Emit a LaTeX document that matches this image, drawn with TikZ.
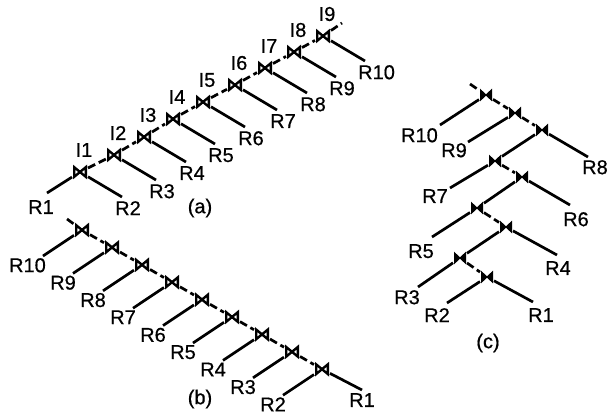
\documentclass[tikz,border=0pt]{standalone}
\usepackage{fontspec}
\setmainfont{Liberation Sans}
\newfontfamily\labfont{Liberation Sans}[FakeBold=0.6]
\begin{document}
\begin{tikzpicture}[x=1pt,y=-1pt,
  con/.style={line width=2.7pt},
  chain/.style={line width=2.7pt, dash pattern=on 8pt off 4pt},
  bt/.style={rectangle, inner sep=0pt, outer sep=0pt, minimum width=16pt, minimum height=13pt},
  cbt/.style={rectangle, inner sep=0pt, outer sep=0pt, minimum width=14pt, minimum height=13pt},
  btsym/.style={line width=2.4pt, line join=miter},
  lab/.style={inner sep=0pt, font=\labfont\fontsize{20}{21}\selectfont},
]
\path[use as bounding box] (0,0) rectangle (608,418);

% ---------------- (a) ----------------
\foreach \i/\x/\y in {1/80/172,2/114/155,3/144/137,4/173/119,5/203/102,6/235/85,7/265/68,8/294/52,9/323/36}{
  \node[bt] (a\i) at (\x,\y) {};
  \draw[btsym] ([shift={(-5.8pt,4.8pt)}]a\i.center) -- ([shift={(-5.8pt,-4.8pt)}]a\i.center)
    -- ([shift={(5.8pt,4.8pt)}]a\i.center) -- ([shift={(5.8pt,-4.8pt)}]a\i.center) -- cycle;
  \node[lab] (ia\i) at ([shift={(4,-22)}]a\i) {I\i};
}
\foreach \i [evaluate=\i as \j using int(\i+1)] in {1,...,9}{
  \node[lab, anchor=north west] (ra\j) at ([shift={(35,29)}]a\i) {R\j};
  \draw[con] (a\i) -- ([shift={(7,-4)}]ra\j.north west);
}
\node[lab, anchor=north] (ra1) at (41,200) {R1};
\draw[con] (a1) -- ([shift={(6,-7)}]ra1.north);
\coordinate (ae) at (342,23);
\draw[chain] (a1) -- (a2) -- (a3) -- (a4) -- (a5) -- (a6) -- (a7) -- (a8) -- (a9) -- (ae);
\node[lab] (capa) at (200,208) {(a)};

% ---------------- (b) ----------------
\foreach \i [evaluate=\i as \x using 82+30*(\i-1), evaluate=\i as \y using 230+17.4*(\i-1),
             evaluate=\i as \r using int(11-\i)] in {1,...,9}{
  \node[bt] (b\i) at (\x,\y) {};
  \draw[btsym] ([shift={(-5.8pt,4.8pt)}]b\i.center) -- ([shift={(-5.8pt,-4.8pt)}]b\i.center)
    -- ([shift={(5.8pt,4.8pt)}]b\i.center) -- ([shift={(5.8pt,-4.8pt)}]b\i.center) -- cycle;
  \node[lab, anchor=north east] (rb\r) at ([shift={(-36,28)}]b\i) {R\r};
  \draw[con] (b\i) -- ([shift={(-3,-2)}]rb\r.north east);
}
\node[lab, anchor=north] (rb1) at (362,393) {R1};
\draw[con] (b9) -- ([shift={(0,-3)}]rb1.north);
\coordinate (be) at (67,219);
\draw[chain] (be) -- (b1) -- (b2) -- (b3) -- (b4) -- (b5) -- (b6) -- (b7) -- (b8) -- (b9);
\node[lab] (capb) at (200,399) {(b)};

% ---------------- (c) ----------------
\foreach \i/\x/\y in {1/486/95,2/515/113,3/542/130,4/495/161,5/522/177,6/477/208,7/506/227,8/460/258,9/487/277}{
  \node[cbt] (c\i) at (\x,\y) {};
  \filldraw[line width=1pt, line join=miter] ([shift={(-5.5pt,5.2pt)}]c\i.center) -- ([shift={(-5.5pt,-5.2pt)}]c\i.center)
    -- ([shift={(5.5pt,5.2pt)}]c\i.center) -- ([shift={(5.5pt,-5.2pt)}]c\i.center) -- cycle;
}
\node[lab, anchor=north east] (rc10) at (438,128) {R10};
\node[lab, anchor=north east] (rc9) at (467,143) {R9};
\node[lab, anchor=north west] (rc8) at (582,160) {R8};
\node[lab, anchor=north east] (rc7) at (448,189) {R7};
\node[lab, anchor=north west] (rc6) at (563,212) {R6};
\node[lab, anchor=north east] (rc5) at (434,244) {R5};
\node[lab, anchor=north west] (rc4) at (545,261) {R4};
\node[lab, anchor=north east] (rc3) at (420,290) {R3};
\node[lab, anchor=north east] (rc2) at (450,308) {R2};
\node[lab, anchor=north west] (rc1) at (528,308) {R1};
\node[lab] (capc) at (488,343) {(c)};

\draw[con] (c1) -- ([shift={(2,-3)}]rc10.north east);
\draw[con] (c2) -- ([shift={(1,-1)}]rc9.north east);
\draw[con] (c3) -- ([shift={(6,-3)}]rc8.north west);
\draw[con] (c3) -- (c4);
\draw[con] (c4) -- ([shift={(2,-1)}]rc7.north east);
\draw[con] (c5) -- (c6);
\draw[con] (c5) -- ([shift={(7,-7)}]rc6.north west);
\draw[con] (c6) -- ([shift={(-2,-7)}]rc5.north east);
\draw[con] (c7) -- (c8);
\draw[con] (c7) -- ([shift={(12,-6)}]rc4.north west);
\draw[con] (c8) -- ([shift={(-2,-3)}]rc3.north east);
\draw[con] (c9) -- ([shift={(-3,-5)}]rc2.north east);
\draw[con] (c9) -- ([shift={(5,-6)}]rc1.north west);

\coordinate (ce) at (470,84);
\draw[chain] (ce) -- (c1) -- (c2) -- (c3);
\draw[chain] (c4) -- (c5);
\draw[chain] (c6) -- (c7);
\draw[chain] (c8) -- (c9);
\end{tikzpicture}
\end{document}
